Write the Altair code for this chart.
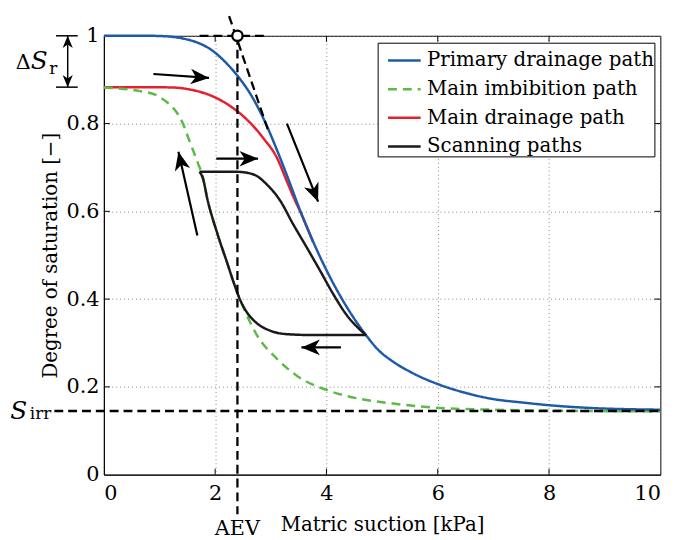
import math
import altair as alt
import pandas as pd

FONT = "DejaVu Serif"
W, H = 563, 444

# ---------------- data ----------------
series_names = ["Primary drainage path", "Main imbibition path",
                "Main drainage path", "Scanning paths"]
series_colors = ["#1f5aa8", "#5cba47", "#e4202e", "#1a1a1a"]
series_dashes = [[1, 0], [9, 6], [1, 0], [1, 0]]

primary_x = [0.0, 0.8, 1.1, 1.45, 1.69, 1.92, 2.16, 2.40, 2.63, 2.87, 3.11,
             3.34, 3.52, 3.76, 4.0, 4.23, 4.47, 4.71, 4.94, 5.18, 5.54, 6.03,
             6.48, 6.96, 7.55, 8.02, 8.73, 10.0]
primary_s = [1.0, 1.0, 0.999, 0.993, 0.984, 0.969, 0.943, 0.909, 0.868, 0.811,
             0.740, 0.665, 0.604, 0.531, 0.466, 0.411, 0.361, 0.318, 0.283,
             0.259, 0.232, 0.205, 0.187, 0.173, 0.164, 0.158, 0.152, 0.148]

imbib_x = [0.0, 0.36, 0.65, 0.92, 1.13, 1.30, 1.42, 1.51, 1.60, 1.69, 1.78,
           1.86, 2.04, 2.22, 2.40, 2.57, 2.75, 3.11, 3.46, 4.0, 4.59, 5.2,
           6.03, 7.0, 8.0, 10.0]
imbib_s = [0.882, 0.879, 0.874, 0.866, 0.849, 0.827, 0.800, 0.770, 0.740,
           0.710, 0.678, 0.628, 0.549, 0.481, 0.414, 0.363, 0.318, 0.264,
           0.226, 0.193, 0.173, 0.162, 0.152, 0.148, 0.146, 0.144]

main_drain_x = [0.0, 0.8, 1.27, 1.57, 1.92, 2.28, 2.58, 2.87, 3.11, 3.29,
                3.43, 3.52, 3.76]
main_drain_s = [0.883, 0.883, 0.882, 0.877, 0.864, 0.839, 0.808, 0.766,
                0.722, 0.668, 0.626, 0.602, 0.530]

scan_up_x = [1.72, 2.40, 2.69, 2.93, 3.17, 3.40, 3.64, 3.88, 4.11, 4.35, 4.71]
scan_up_s = [0.690, 0.690, 0.684, 0.661, 0.624, 0.571, 0.519, 0.466, 0.414,
             0.366, 0.318]

scan_lo_x = [1.72, 1.78, 1.86, 2.04, 2.22, 2.34, 2.45, 2.57, 2.75, 2.99, 3.3,
             3.8, 4.71]
scan_lo_s = [0.690, 0.675, 0.628, 0.549, 0.481, 0.435, 0.398, 0.370, 0.345,
             0.328, 0.320, 0.318, 0.318]

s_irr = 0.145
aev = 2.4

# dashed construction lines
dash_x1 = [-0.89, aev, 1.72, 2.25]
dash_y1 = [s_irr, 1.0, 1.0, 1.045]
dash_x2 = [10.0, aev, 2.93, 2.95]
dash_y2 = [s_irr, -0.09, 1.0, 0.785]

# direction arrows (tail -> tip)
arrow_tail_x = [0.89, 2.02, 1.68, 3.29, 4.26]
arrow_tail_s = [0.913, 0.720, 0.545, 0.800, 0.290]
arrow_tip_x = [1.89, 2.77, 1.34, 3.85, 3.55]
arrow_tip_s = [0.904, 0.720, 0.736, 0.622, 0.290]

# delta S_r bracket
dsr_x = -0.65
dsr_top = 1.0
dsr_bot = 0.883
dsr_bar_x1 = -0.86
dsr_bar_x2 = -0.47

x_ticks = [0, 2, 4, 6, 8, 10]
y_ticks = [0, 0.2, 0.4, 0.6, 0.8, 1.0]

# ---------------- tables ----------------
rows = []
for name, seg, xs, ss in [
    (series_names[0], "p", primary_x, primary_s),
    (series_names[1], "i", imbib_x, imbib_s),
    (series_names[2], "d", main_drain_x, main_drain_s),
    (series_names[3], "su", scan_up_x, scan_up_s),
    (series_names[3], "sl", scan_lo_x, scan_lo_s),
]:
    for x, s in zip(xs, ss):
        rows.append({"series": name, "seg": seg, "x": x, "s": s})
curves = pd.DataFrame(rows)

dashes = pd.DataFrame({"x": dash_x1, "y": dash_y1, "x2": dash_x2, "y2": dash_y2})

ang = []
for tx, ts, hx, hs in zip(arrow_tail_x, arrow_tail_s, arrow_tip_x, arrow_tip_s):
    a = math.degrees(math.atan2((hx - tx) * W / 10.0, (hs - ts) * H))
    ang.append(a % 360)
arrows = pd.DataFrame({"x": arrow_tail_x, "y": arrow_tail_s,
                       "x2": arrow_tip_x, "y2": arrow_tip_s, "ang": ang})

dsr_rules = pd.DataFrame({"x": [dsr_x, dsr_bar_x1, dsr_bar_x1],
                          "x2": [dsr_x, dsr_bar_x2, dsr_bar_x2],
                          "y": [dsr_top, dsr_top, dsr_bot],
                          "y2": [dsr_bot, dsr_top, dsr_bot]})
dsr_heads = pd.DataFrame({"x": [dsr_x, dsr_x], "y": [dsr_top, dsr_bot],
                          "ang": [0, 180]})

tk = 0.107  # inner tick length (x units)
tks = 0.0135
inner_ticks = pd.DataFrame(
    [{"x": v, "x2": v, "y": 0, "y2": tks} for v in x_ticks[1:-1]] +
    [{"x": v, "x2": v, "y": 1, "y2": 1 - tks} for v in x_ticks[1:-1]] +
    [{"x": 0, "x2": tk, "y": v, "y2": v} for v in y_ticks[1:-1]] +
    [{"x": 10, "x2": 10 - tk, "y": v, "y2": v} for v in y_ticks[1:-1]]
)

texts_normal = pd.DataFrame({"x": [aev, -1.45], "y": [-0.137, 0.924],
                             "t": ["AEV", "\u0394"]})
texts_italic = pd.DataFrame({"x": [-1.53, -1.16], "y": [0.126, 0.924],
                             "t": ["S", "S"]})
texts_sub = pd.DataFrame({"x": [-1.33, -0.98], "y": [0.126, 0.913],
                          "t": ["irr", "r"]})

# ---------------- encodings ----------------
xscale = alt.Scale(domain=[0, 10], nice=False, zero=False)
yscale = alt.Scale(domain=[0, 1], nice=False, zero=False)

xaxis = alt.Axis(values=x_ticks, format="d", grid=True, gridDash=[1, 3],
                 gridColor="#888888", gridWidth=1, ticks=False, tickSize=0,
                 labelFont=FONT, labelFontSize=21, labelColor="black",
                 labelPadding=8, domainColor="black", domainWidth=1,
                 title="Matric suction [kPa]", titleFont=FONT,
                 titleFontSize=20, titleFontWeight="normal",
                 titleColor="black", titlePadding=12)
yaxis = alt.Axis(values=y_ticks, format="~g", grid=True, gridDash=[1, 3],
                 gridColor="#888888", gridWidth=1, ticks=False, tickSize=0,
                 labelFont=FONT, labelFontSize=21, labelColor="black",
                 labelPadding=5, domainColor="black", domainWidth=1,
                 title="Degree of saturation [\u2212]", titleFont=FONT,
                 titleFontSize=20, titleFontWeight="normal",
                 titleColor="black", titlePadding=6)

legend = alt.Legend(title=None, orient="none", legendX=277, legendY=7,
                    direction="vertical", fillColor="white",
                    strokeColor="black", padding=0, rowPadding=1,
                    labelFont=FONT, labelFontSize=20, labelColor="black",
                    labelOffset=5, labelLimit=400, symbolType="stroke",
                    symbolSize=1089, symbolStrokeWidth=2.5, symbolOffset=9,
                    labelExpr="datum.label + '\u00a0\u00a0\u00a0'")

color_enc = alt.Color("series:N", scale=alt.Scale(domain=series_names,
                                                  range=series_colors),
                      legend=legend)
dash_enc = alt.StrokeDash("series:N", scale=alt.Scale(domain=series_names,
                                                      range=series_dashes),
                          legend=legend)


def X(f):
    return alt.X(f, type="quantitative", scale=xscale, axis=xaxis)


def Y(f):
    return alt.Y(f, type="quantitative", scale=yscale, axis=yaxis)


def curve(name):
    return alt.Chart(curves).transform_filter(
        alt.datum.series == name
    ).mark_line(strokeWidth=2.5, interpolate="monotone").encode(
        x=X("x"), y=Y("s"), color=color_enc,
        strokeDash=dash_enc, detail="seg:N")


red = curve(series_names[2])
green = curve(series_names[1])
blue = curve(series_names[0])
black = curve(series_names[3])

dash_layer = alt.Chart(dashes).mark_rule(
    color="black", strokeWidth=2.3, strokeDash=[9, 5]).encode(
    x=X("x"), y=Y("y"), x2="x2", y2="y2")

tick_layer = alt.Chart(inner_ticks).mark_rule(
    color="black", strokeWidth=1).encode(
    x=X("x"), y=Y("y"), x2="x2", y2="y2")

HEAD = "M0,0L0.42,1L0,0.72L-0.42,1Z"

arrow_lines = alt.Chart(arrows).mark_rule(
    color="black", strokeWidth=2.2).encode(
    x=X("x"), y=Y("y"), x2="x2", y2="y2")
arrow_heads = alt.Chart(arrows).mark_point(
    shape=HEAD, filled=True, color="black", opacity=1, size=1400).encode(
    x=X("x2"), y=Y("y2"), angle=alt.Angle("ang:Q", scale=None))

dsr_line = alt.Chart(dsr_rules).mark_rule(
    color="black", strokeWidth=1.5).encode(
    x=X("x"), y=Y("y"), x2="x2", y2="y2")
dsr_head = alt.Chart(dsr_heads).mark_point(
    shape=HEAD, filled=True, color="black", opacity=1, size=600).encode(
    x=X("x"), y=Y("y"), angle=alt.Angle("ang:Q", scale=None))

circle = alt.Chart(pd.DataFrame({"x": [aev], "y": [1.0]})).mark_point(
    shape="circle", filled=True, fill="white", stroke="black",
    strokeWidth=2.3, size=110, opacity=1).encode(x=X("x"), y=Y("y"))

t_norm = alt.Chart(texts_normal).mark_text(
    font=FONT, fontSize=21, color="black", align="center",
    baseline="alphabetic").encode(x=X("x"), y=Y("y"), text="t:N")
t_ital = alt.Chart(texts_italic).mark_text(
    font=FONT, fontSize=25, fontStyle="italic", color="black",
    align="center", baseline="alphabetic").encode(
    x=X("x"), y=Y("y"), text="t:N")
t_sub = alt.Chart(texts_sub).mark_text(
    font=FONT, fontSize=17, color="black", align="left",
    baseline="alphabetic").encode(x=X("x"), y=Y("y"), text="t:N")

chart = alt.layer(
    red, green, blue, black, dash_layer, tick_layer, arrow_lines,
    arrow_heads, dsr_line, dsr_head, circle, t_norm, t_ital, t_sub
).resolve_scale(color="shared", strokeDash="shared").properties(
    width=W, height=H,
    autosize=alt.AutoSizeParams(type="none"),
    padding={"left": 97, "top": 25, "right": 29, "bottom": 63},
    background="white",
).configure_view(stroke="black", strokeWidth=1)

chart.save("out.html", embed_options={"renderer": "svg", "actions": False})
